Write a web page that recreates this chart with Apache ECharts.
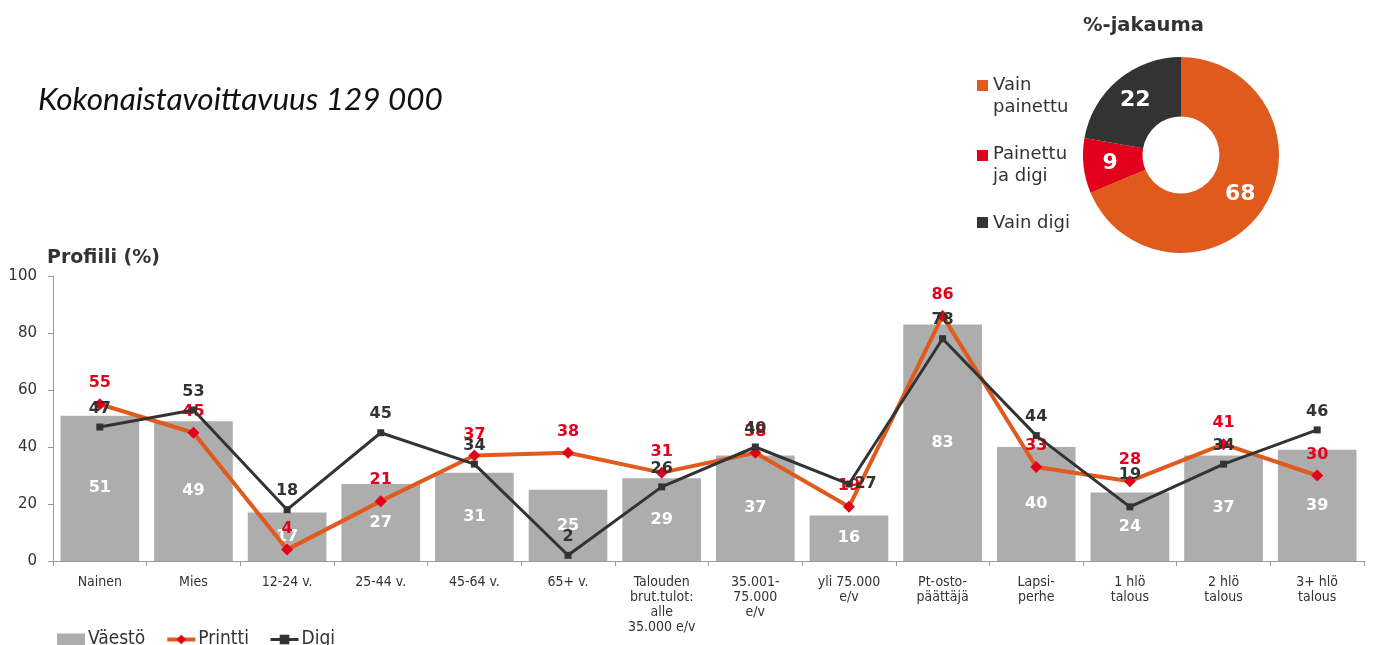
<!DOCTYPE html>
<html>
<head>
<meta charset="utf-8">
<script src="https://cdn.jsdelivr.net/npm/echarts@6/dist/echarts.min.js"></script>
<style>
html,body{margin:0;padding:0;background:#fff;}
#c{width:1373px;height:645px;}
</style>
</head>
<body>
<div id="c"></div>
<script>
const categories = ['Nainen','Mies','12-24 v.','25-44 v.','45-64 v.','65+ v.','Talouden\nbrut.tulot:\nalle\n35.000 e/v','35.001-\n75.000\ne/v','yli 75.000\ne/v','Pt-osto-\npäättäjä','Lapsi-\nperhe','1 hlö\ntalous','2 hlö\ntalous','3+ hlö\ntalous'];
const vaesto = [51,49,17,27,31,25,29,37,16,83,40,24,37,39];
const printti = [55,45,4,21,37,38,31,38,19,86,33,28,41,30];
const digi = [47,53,18,45,34,2,26,40,27,78,44,19,34,46];
const yTicks = [0,20,40,60,80,100];
const pieNames = ['Vain painettu','Painettu ja digi','Vain digi'];
const pieLegendLabels = ['Vain\npainettu','Painettu\nja digi','Vain digi'];
const pieValues = [68,9,22];

const ORANGE = '#e05a1e', RED = '#e3001b', DARK = '#333333', GRAY = '#adadad';
const pieColors = [ORANGE, RED, DARK];
const NARROW = '"DejaVu Sans Condensed", "Liberation Sans"';

const digiData = digi.map((v,i) => {
  if (i === 8) return {value: v, label: {position: 'right', distance: 2}};
  if (i === 11) return {value: v, label: {offset: [0, -14]}};
  return v;
});

const chart = echarts.init(document.getElementById('c'));

const legendGraphics = [];
const iconY = [80, 150, 217];
const textY = [74, 143, 212];
pieLegendLabels.forEach((t,i) => {
  legendGraphics.push({type:'rect', left: 977, top: iconY[i], shape:{width:11,height:11}, style:{fill: pieColors[i]}});
  legendGraphics.push({type:'text', left: 993, top: textY[i], style:{text: t, fill:'#333', font:'18px "DejaVu Sans"', lineHeight: 22}});
});

chart.setOption({
  animation: false,
  title: [
    {text: 'Kokonaistavoittavuus 129 000', left: 33, top: 79, textStyle:{fontFamily:'Lato', fontStyle:'italic', fontWeight:'normal', fontSize: 31.5, color:'#111'}},
    {text: 'Profiili (%)', left: 42, top: 244, textStyle:{fontFamily:'"DejaVu Sans"', fontWeight:'bold', fontSize: 19, color:'#333'}},
    {text: '%-jakauma', left: 1078, top: 11, textStyle:{fontFamily:'"DejaVu Sans"', fontWeight:'bold', fontSize: 19.5, color:'#333'}}
  ],
  graphic: legendGraphics,
  legend: {
    data: [
      {name:'Väestö', icon:'rect'},
      {name:'Printti', lineStyle:{width:4, color: ORANGE}, itemStyle:{color: RED}},
      {name:'Digi', lineStyle:{width:3, color: DARK}, itemStyle:{color: DARK}}
    ],
    left: 52, top: 625,
    itemWidth: 28, itemHeight: 12, itemGap: 20,
    textStyle: {fontFamily: NARROW, fontSize: 19, color:'#333', padding:[0,0,0,-2]}
  },
  grid: {left: 53, right: 9, top: 276, bottom: 84},
  xAxis: {
    type: 'category', data: categories,
    axisLine: {lineStyle:{color:'#999'}},
    axisTick: {show: true, length: 5, lineStyle:{color:'#999'}},
    axisLabel: {interval: 0, margin: 14, fontFamily: NARROW, fontSize: 14, lineHeight: 15, color:'#333'}
  },
  yAxis: {
    type: 'value', min: 0, max: 100, interval: 20,
    axisLine: {show: true, lineStyle:{color:'#999'}},
    axisTick: {show: true, length: 5, lineStyle:{color:'#999'}},
    splitLine: {show: false},
    axisLabel: {fontFamily:'"DejaVu Sans"', fontSize: 15, color:'#333', margin: 16,
      formatter: v => yTicks.includes(v) ? String(v) : ''}
  },
  series: [
    {name:'Väestö', type:'bar', data: vaesto, barCategoryGap:'16%', itemStyle:{color: GRAY},
      label:{show:true, position:'inside', color:'#fff', fontFamily:'"DejaVu Sans"', fontWeight:'bold', fontSize:16}},
    {name:'Printti', type:'line', data: printti, symbol:'diamond', symbolSize: 12,
      lineStyle:{color: ORANGE, width: 4}, itemStyle:{color: RED},
      label:{show:true, position:'top', distance: 7, color: RED, fontFamily:'"DejaVu Sans"', fontWeight:'bold', fontSize:16}, z: 3},
    {name:'Digi', type:'line', data: digiData, symbol:'rect', symbolSize: 7,
      lineStyle:{color: DARK, width: 3}, itemStyle:{color: DARK},
      label:{show:true, position:'top', distance: 7, color: DARK, fontFamily:'"DejaVu Sans"', fontWeight:'bold', fontSize:16}, z: 4},
    {name:'%-jakauma', type:'pie', center:[1181,155], radius:[38.5, 98], startAngle: 90, clockwise: true,
      data: pieNames.map((n,i) => ({name:n, value: pieValues[i], itemStyle:{color: pieColors[i]}})),
      label:{show:true, position:'inside', formatter:'{c}', color:'#fff', fontFamily:'"DejaVu Sans"', fontWeight:'bold', fontSize:22},
      labelLine:{show:false}, emphasis:{disabled:true}}
  ]
});
</script>
</body>
</html>
